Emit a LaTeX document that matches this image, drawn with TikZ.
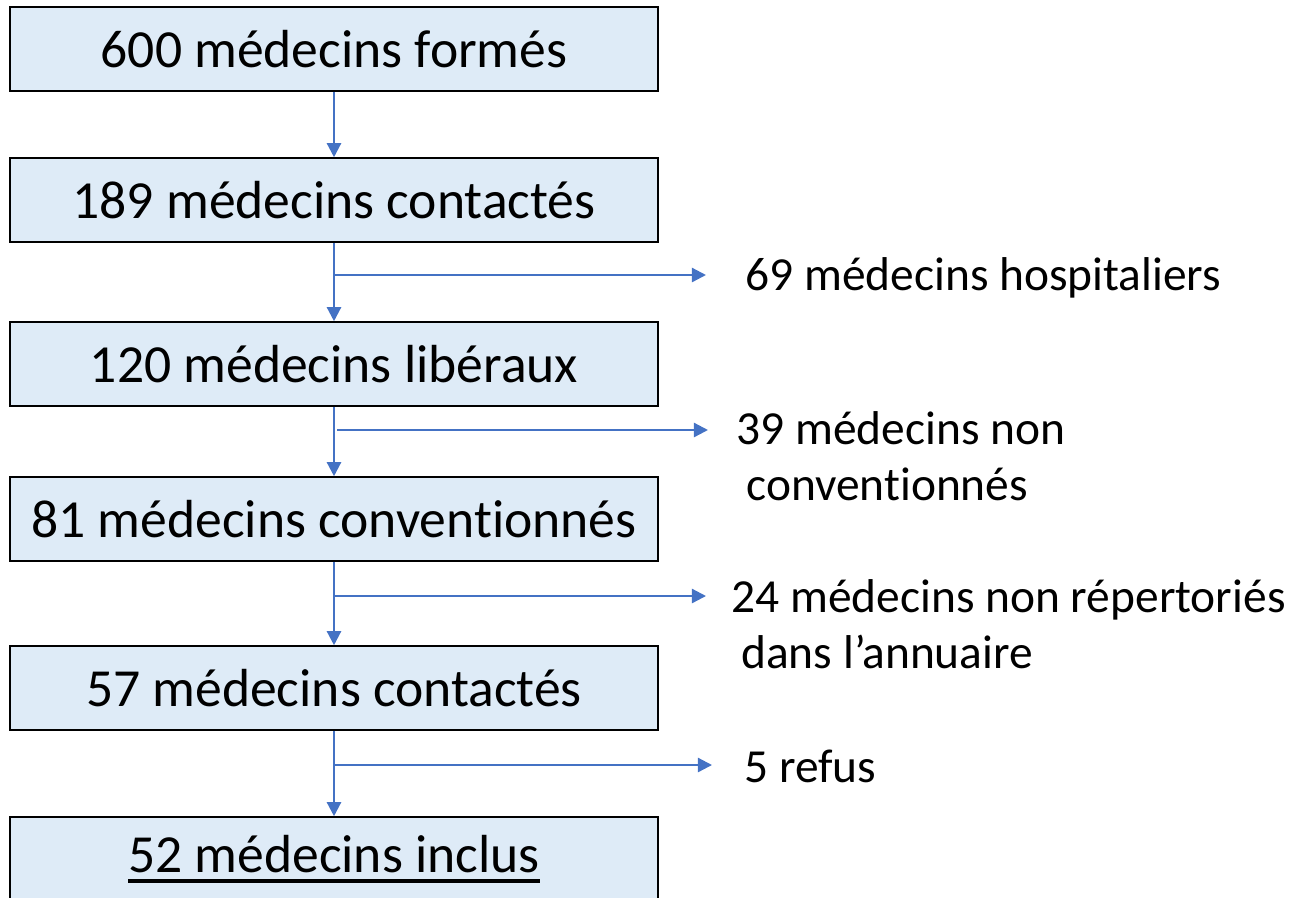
\documentclass[tikz,border=0pt]{standalone}
\usepackage{fontspec}
\setmainfont{Carlito}[RawFeature=-liga]
\usepackage{tikz}
\usetikzlibrary{arrows.meta}
\definecolor{boxfill}{HTML}{DEEBF7}
\definecolor{linkblue}{HTML}{4472C4}
\tikzset{>={Triangle[length=8pt,width=8pt]}}
\tikzset{
  etape/.style={draw=black,line width=0.9pt,fill=boxfill,minimum width=12.96cm,minimum height=1.68cm,inner sep=0pt,font=\fontsize{30.5}{37}\selectfont},
  sortie/.style={anchor=west,inner sep=0pt,align=left,font=\fontsize{27}{32}\selectfont},
  lien/.style={->,linkblue,line width=1.3pt}
}
\newcommand{\souligne}[1]{\setbox0\hbox{#1}\rlap{\rule[-0.2em]{\wd0}{0.065em}}\box0}

\begin{document}
\begin{tikzpicture}[x=0.02cm,y=-0.02cm]
\clip (0,0) rectangle (1296,897);

% Boxes
\node[etape] (b1) at (334,49) {600 médecins formés};
\node[etape] (b2) at (334,200) {189 médecins contactés};
\node[etape] (b3) at (334,364) {120 médecins libéraux};
\node[etape] (b4) at (334,519) {81 médecins conventionnés};
\node[etape] (b5) at (334,688) {57 médecins contactés};
\node[etape] (b6) at (334,859) {\souligne{52 médecins inclus}};

% Excluded
\node[sortie] (s1) at (745,278) {69 médecins hospitaliers};
\node[sortie] (s2) at (736,456) {39 médecins non\\\hspace{0.2cm}conventionnés};
\node[sortie] (s3) at (731,624) {24 médecins non répertoriés\\\hspace{0.2cm}dans l’annuaire};
\node[sortie] (s4) at (744,766) {5 refus};

% Branch points and arrow tips
\coordinate (k1) at (334,275);  \coordinate (t1) at (706,275);
\coordinate (k2) at (337,430);  \coordinate (t2) at (708,430);
\coordinate (k3) at (334,596);  \coordinate (t3) at (706,596);
\coordinate (k4) at (334,765);  \coordinate (t4) at (712,765);

% Main flow
\draw[lien] (b1) -- (b2);
\draw[lien] (b2) -- (b3);
\draw[lien] (b3) -- (b4);
\draw[lien] (b4) -- (b5);
\draw[lien] (b5) -- (b6);

% Side exits
\draw[lien] (k1) -- (t1);
\draw[lien] (k2) -- (t2);
\draw[lien] (k3) -- (t3);
\draw[lien] (k4) -- (t4);

\end{tikzpicture}
\end{document}
